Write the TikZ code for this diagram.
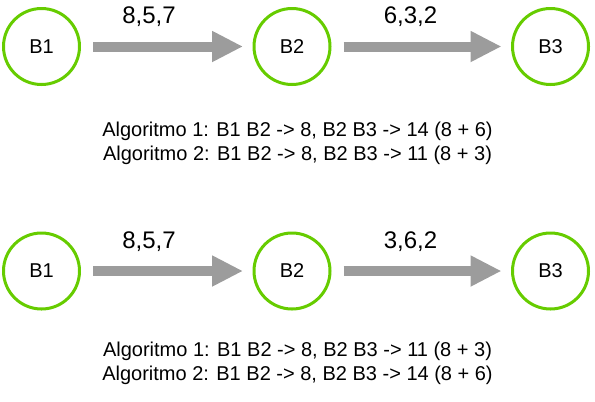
\documentclass[tikz,border=0pt]{standalone}
\usepackage{fontspec}
\setmainfont{Liberation Sans}
\usetikzlibrary{arrows.meta}
\definecolor{blockgreen}{RGB}{102,204,0}
\definecolor{arrowgray}{RGB}{156,156,156}

\begin{document}
\begin{tikzpicture}[
				x=1bp, y=-1bp,
				line join=round,
				block/.style={circle, draw=blockgreen, line width=3bp, minimum size=76bp, inner sep=0pt, font=\fontsize{20bp}{22bp}\selectfont},
				fatarrow/.style={draw=arrowgray, line width=10bp, -{Triangle[length=31bp, width=29bp]}, shorten <=12bp, shorten >=9.5bp},
				weights/.style={anchor=base, font=\fontsize{24bp}{26bp}\selectfont},
				algo/.style={anchor=base, font=\fontsize{20bp}{24bp}\selectfont}
				]
				\useasboundingbox (0,0) rectangle (595,401);
				
				% Top row
				\node[block] (b1top) at (41.5,46.5) {B1};
				\node[block] (b2top) at (292,46.5) {B2};
				\node[block] (b3top) at (550.5,46.5) {B3};
				\draw[fatarrow] (b1top) -- (b2top);
				\draw[fatarrow] (b2top) -- (b3top);
				\node[weights] (w12top) at (149,23.3) {8,5,7};
				\node[weights] (w23top) at (410.5,23.3) {6,3,2};
				\node[algo] (algo1top) at (297.5,136) {Algoritmo 1: B1 B2 -> 8, B2 B3 -> 14 (8 + 6)};
				\node[algo] (algo2top) at (297.5,160) {Algoritmo 2: B1 B2 -> 8, B2 B3 -> 11 (8 + 3)};
				
				% Bottom row
				\node[block] (b1bot) at (41.5,271) {B1};
				\node[block] (b2bot) at (292,271) {B2};
				\node[block] (b3bot) at (550.5,271) {B3};
				\draw[fatarrow] (b1bot) -- (b2bot);
				\draw[fatarrow] (b2bot) -- (b3bot);
				\node[weights] (w12bot) at (149,248.3) {8,5,7};
				\node[weights] (w23bot) at (410.5,248.3) {3,6,2};
				\node[algo] (algo1bot) at (297.5,356) {Algoritmo 1: B1 B2 -> 8, B2 B3 -> 11 (8 + 3)};
				\node[algo] (algo2bot) at (297.5,380) {Algoritmo 2: B1 B2 -> 8, B2 B3 -> 14 (8 + 6)};
			\end{tikzpicture}
\end{document}
